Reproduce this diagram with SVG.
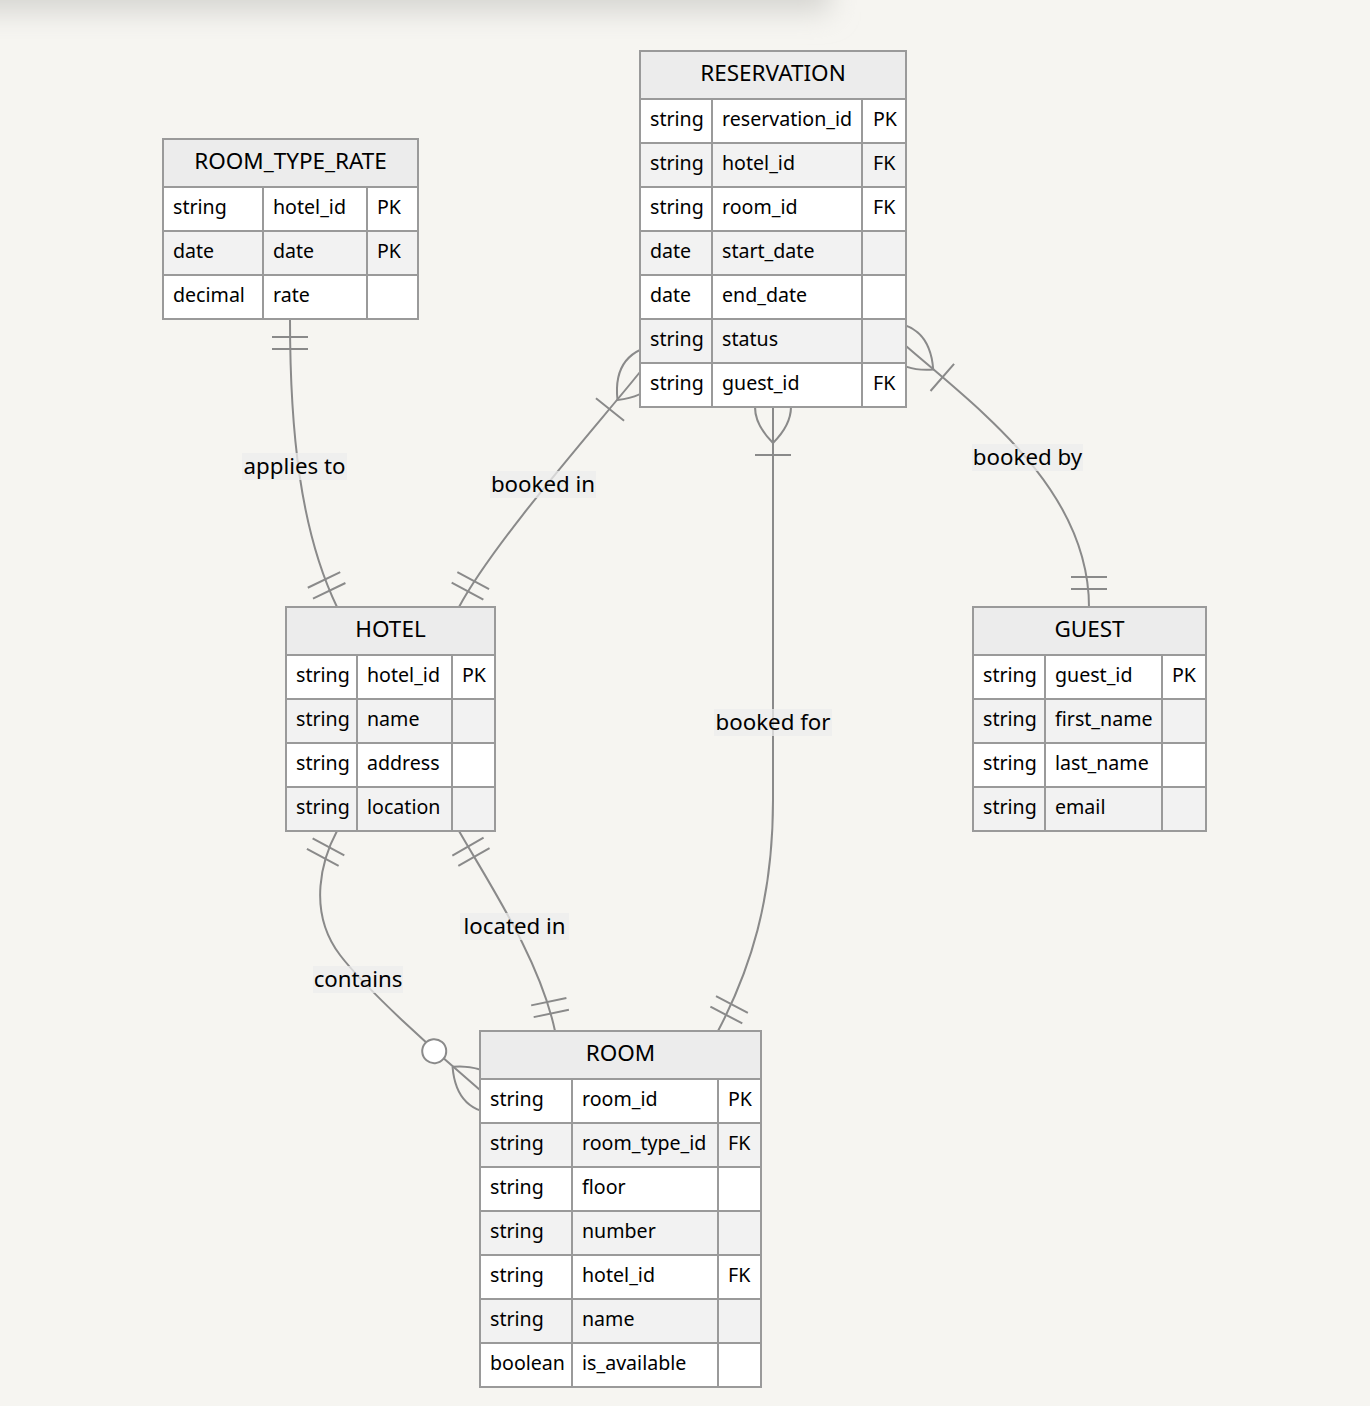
<svg xmlns="http://www.w3.org/2000/svg" width="1370" height="1406" viewBox="0 0 1370 1406">
  <style>
    .box { stroke: #9a9a9a; stroke-width: 2; }
    .hdr { fill: #ececec; }
    .odd { fill: #ffffff; }
    .even { fill: #f2f2f2; }
    .grid { stroke: #9a9a9a; stroke-width: 2; fill: none; }
    .t { font-family: "Noto Sans", "DejaVu Sans", sans-serif; font-size: 19.6px; fill: #000; }
    .h { font-family: "Noto Sans", "DejaVu Sans", sans-serif; font-size: 22.5px; fill: #000; text-anchor: middle; }
    .rel { stroke: #8a8a8a; stroke-width: 2; fill: none; }
    .lblbg { fill: #ececec; opacity: 0.75; }
    .lbl { font-family: "Noto Sans", "DejaVu Sans", sans-serif; font-size: 22.3px; fill: #000; text-anchor: middle; }
    .mk { stroke: #8a8a8a; stroke-width: 2; fill: none; }
  </style>
  <defs>
    <filter id="soft" x="-20%" y="-200%" width="140%" height="500%">
      <feGaussianBlur stdDeviation="14"/>
    </filter>
    <marker id="oneStart" markerUnits="userSpaceOnUse" markerWidth="36" markerHeight="36" refX="0" refY="18" orient="auto" overflow="visible">
      <path class="mk" d="M18,0 L18,36 M30,0 L30,36"/>
    </marker>
    <marker id="oneEnd" markerUnits="userSpaceOnUse" markerWidth="36" markerHeight="36" refX="36" refY="18" orient="auto" overflow="visible">
      <path class="mk" d="M6,0 L6,36 M18,0 L18,36"/>
    </marker>
    <marker id="manyStart" markerUnits="userSpaceOnUse" markerWidth="90" markerHeight="72" refX="36" refY="36" orient="auto" overflow="visible">
      <path class="mk" d="M0,36 Q36,0 72,36 Q36,72 0,36 M84,18 L84,54"/>
    </marker>
    <marker id="zeroManyEnd" markerUnits="userSpaceOnUse" markerWidth="114" markerHeight="72" refX="78" refY="36" orient="auto" overflow="visible">
      <circle cx="18" cy="36" r="12" stroke="#8a8a8a" stroke-width="2" fill="#ffffff"/>
      <path class="mk" d="M42,36 Q78,0 114,36 Q78,72 42,36"/>
    </marker>
  </defs>

  <!-- page -->
  <rect x="0" y="0" width="1370" height="1406" fill="#f6f5f1"/>
  <rect x="-60" y="-40" width="890" height="52" fill="#d6d5d1" filter="url(#soft)"/>

  <!-- relationships -->
  <g id="connectors">
    <path class="rel" d="M290,319 C290,430 300,530 337,607" marker-start="url(#oneStart)" marker-end="url(#oneEnd)"/>
    <path class="rel" d="M640,372 C600,422 495,540 459,607" marker-start="url(#manyStart)" marker-end="url(#oneEnd)"/>
    <path class="rel" d="M906,346 C980,410 1089,490 1089,607" marker-start="url(#manyStart)" marker-end="url(#oneEnd)"/>
    <path class="rel" d="M773,407 L773,800 C773,900 750,970 718,1031" marker-start="url(#manyStart)" marker-end="url(#oneEnd)"/>
    <path class="rel" d="M337,831 C323,857 306,910 340,955 C365,988 434,1051 480,1090" marker-start="url(#oneStart)" marker-end="url(#zeroManyEnd)"/>
    <path class="rel" d="M459,831 C490,885 540,960 555,1031" marker-start="url(#oneStart)" marker-end="url(#oneEnd)"/>

    <rect class="lblbg" x="242" y="453" width="105" height="27"/>
    <text class="lbl" x="294.5" y="474">applies to</text>
    <rect class="lblbg" x="490" y="471" width="106" height="27"/>
    <text class="lbl" x="543" y="492">booked in</text>
    <rect class="lblbg" x="972" y="444" width="111" height="27"/>
    <text class="lbl" x="1027.5" y="465">booked by</text>
    <rect class="lblbg" x="714" y="709" width="118" height="27"/>
    <text class="lbl" x="773" y="730">booked for</text>
    <rect class="lblbg" x="313" y="966" width="90" height="27"/>
    <text class="lbl" x="358" y="987">contains</text>
    <rect class="lblbg" x="460" y="913" width="109" height="27"/>
    <text class="lbl" x="514.5" y="934">located in</text>
  </g>

  <!-- ROOM_TYPE_RATE -->
  <g id="room_type_rate">
    <rect class="box hdr" x="163" y="139" width="255" height="48"/>
    <rect class="odd" x="163" y="187" width="255" height="44"/>
    <rect class="even" x="163" y="231" width="255" height="44"/>
    <rect class="odd" x="163" y="275" width="255" height="44"/>
    <path class="grid" d="M163,139 H418 V319 H163 Z M163,187 H418 M163,231 H418 M163,275 H418 M263,187 V319 M367,187 V319"/>
    <text class="h" x="290.5" y="169">ROOM_TYPE_RATE</text>
    <text class="t" x="173" y="214">string</text><text class="t" x="273" y="214">hotel_id</text><text class="t" x="377" y="214">PK</text>
    <text class="t" x="173" y="258">date</text><text class="t" x="273" y="258">date</text><text class="t" x="377" y="258">PK</text>
    <text class="t" x="173" y="302">decimal</text><text class="t" x="273" y="302">rate</text>
  </g>

  <!-- RESERVATION -->
  <g id="reservation">
    <rect class="box hdr" x="640" y="51" width="266" height="48"/>
    <rect class="odd" x="640" y="99" width="266" height="44"/>
    <rect class="even" x="640" y="143" width="266" height="44"/>
    <rect class="odd" x="640" y="187" width="266" height="44"/>
    <rect class="even" x="640" y="231" width="266" height="44"/>
    <rect class="odd" x="640" y="275" width="266" height="44"/>
    <rect class="even" x="640" y="319" width="266" height="44"/>
    <rect class="odd" x="640" y="363" width="266" height="44"/>
    <path class="grid" d="M640,51 H906 V407 H640 Z M640,99 H906 M640,143 H906 M640,187 H906 M640,231 H906 M640,275 H906 M640,319 H906 M640,363 H906 M712,99 V407 M862,99 V407"/>
    <text class="h" x="773" y="81">RESERVATION</text>
    <text class="t" x="650" y="126">string</text><text class="t" x="722" y="126">reservation_id</text><text class="t" x="873" y="126">PK</text>
    <text class="t" x="650" y="170">string</text><text class="t" x="722" y="170">hotel_id</text><text class="t" x="873" y="170">FK</text>
    <text class="t" x="650" y="214">string</text><text class="t" x="722" y="214">room_id</text><text class="t" x="873" y="214">FK</text>
    <text class="t" x="650" y="258">date</text><text class="t" x="722" y="258">start_date</text>
    <text class="t" x="650" y="302">date</text><text class="t" x="722" y="302">end_date</text>
    <text class="t" x="650" y="346">string</text><text class="t" x="722" y="346">status</text>
    <text class="t" x="650" y="390">string</text><text class="t" x="722" y="390">guest_id</text><text class="t" x="873" y="390">FK</text>
  </g>

  <!-- HOTEL -->
  <g id="hotel">
    <rect class="box hdr" x="286" y="607" width="209" height="48"/>
    <rect class="odd" x="286" y="655" width="209" height="44"/>
    <rect class="even" x="286" y="699" width="209" height="44"/>
    <rect class="odd" x="286" y="743" width="209" height="44"/>
    <rect class="even" x="286" y="787" width="209" height="44"/>
    <path class="grid" d="M286,607 H495 V831 H286 Z M286,655 H495 M286,699 H495 M286,743 H495 M286,787 H495 M357,655 V831 M452,655 V831"/>
    <text class="h" x="390.5" y="637">HOTEL</text>
    <text class="t" x="296" y="682">string</text><text class="t" x="367" y="682">hotel_id</text><text class="t" x="462" y="682">PK</text>
    <text class="t" x="296" y="726">string</text><text class="t" x="367" y="726">name</text>
    <text class="t" x="296" y="770">string</text><text class="t" x="367" y="770">address</text>
    <text class="t" x="296" y="814">string</text><text class="t" x="367" y="814">location</text>
  </g>

  <!-- GUEST -->
  <g id="guest">
    <rect class="box hdr" x="973" y="607" width="233" height="48"/>
    <rect class="odd" x="973" y="655" width="233" height="44"/>
    <rect class="even" x="973" y="699" width="233" height="44"/>
    <rect class="odd" x="973" y="743" width="233" height="44"/>
    <rect class="even" x="973" y="787" width="233" height="44"/>
    <path class="grid" d="M973,607 H1206 V831 H973 Z M973,655 H1206 M973,699 H1206 M973,743 H1206 M973,787 H1206 M1045,655 V831 M1162,655 V831"/>
    <text class="h" x="1089.5" y="637">GUEST</text>
    <text class="t" x="983" y="682">string</text><text class="t" x="1055" y="682">guest_id</text><text class="t" x="1172" y="682">PK</text>
    <text class="t" x="983" y="726">string</text><text class="t" x="1055" y="726">first_name</text>
    <text class="t" x="983" y="770">string</text><text class="t" x="1055" y="770">last_name</text>
    <text class="t" x="983" y="814">string</text><text class="t" x="1055" y="814">email</text>
  </g>

  <!-- ROOM -->
  <g id="room">
    <rect class="box hdr" x="480" y="1031" width="281" height="48"/>
    <rect class="odd" x="480" y="1079" width="281" height="44"/>
    <rect class="even" x="480" y="1123" width="281" height="44"/>
    <rect class="odd" x="480" y="1167" width="281" height="44"/>
    <rect class="even" x="480" y="1211" width="281" height="44"/>
    <rect class="odd" x="480" y="1255" width="281" height="44"/>
    <rect class="even" x="480" y="1299" width="281" height="44"/>
    <rect class="odd" x="480" y="1343" width="281" height="44"/>
    <path class="grid" d="M480,1031 H761 V1387 H480 Z M480,1079 H761 M480,1123 H761 M480,1167 H761 M480,1211 H761 M480,1255 H761 M480,1299 H761 M480,1343 H761 M572,1079 V1387 M718,1079 V1387"/>
    <text class="h" x="620.5" y="1061">ROOM</text>
    <text class="t" x="490" y="1106">string</text><text class="t" x="582" y="1106">room_id</text><text class="t" x="728" y="1106">PK</text>
    <text class="t" x="490" y="1150">string</text><text class="t" x="582" y="1150">room_type_id</text><text class="t" x="728" y="1150">FK</text>
    <text class="t" x="490" y="1194">string</text><text class="t" x="582" y="1194">floor</text>
    <text class="t" x="490" y="1238">string</text><text class="t" x="582" y="1238">number</text>
    <text class="t" x="490" y="1282">string</text><text class="t" x="582" y="1282">hotel_id</text><text class="t" x="728" y="1282">FK</text>
    <text class="t" x="490" y="1326">string</text><text class="t" x="582" y="1326">name</text>
    <text class="t" x="490" y="1370">boolean</text><text class="t" x="582" y="1370">is_available</text>
  </g>
</svg>
